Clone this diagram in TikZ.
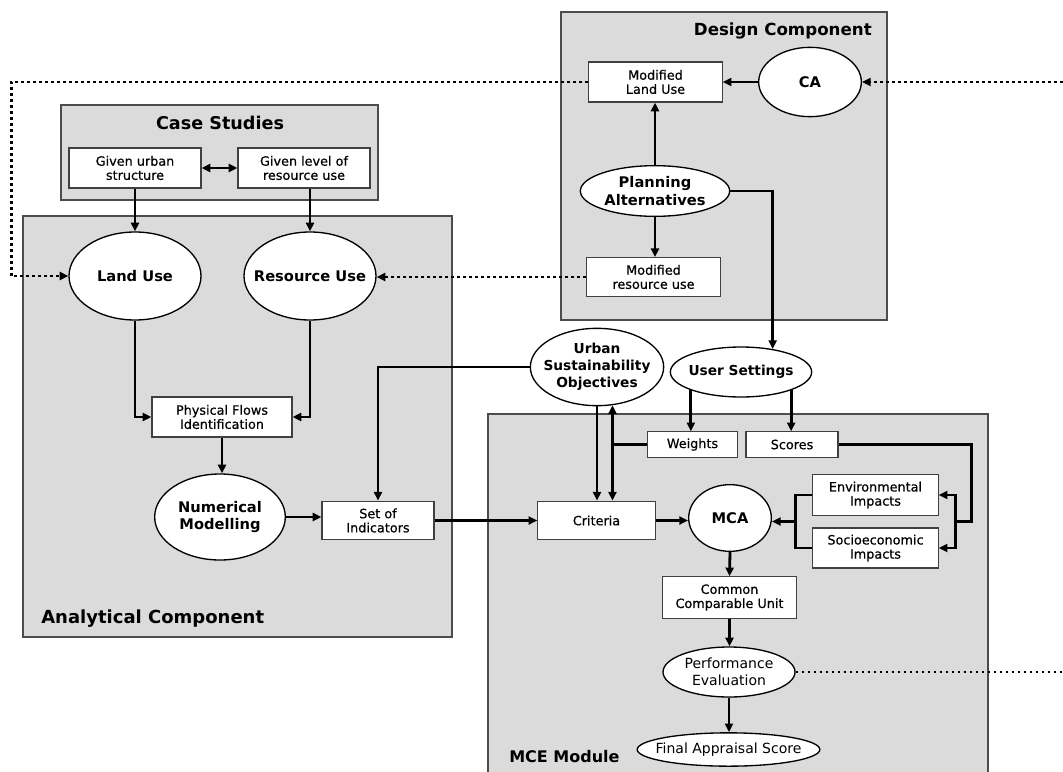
\documentclass[tikz,border=0pt]{standalone}
\usepackage{fontspec}
\setmainfont{DejaVu Sans}
\newfontfamily\boxfont[FakeBold=0.5]{DejaVu Sans}
\usetikzlibrary{arrows.meta,calc,shapes.geometric}

\begin{document}
\begin{tikzpicture}[
          x=0.75pt, y=-0.75pt,
          >={Triangle[length=6.5pt, width=6pt]},
          panel/.style={draw=black!70, line width=1.2pt, fill=black!14},
          paneltitle/.style={font=\fontsize{#1}{16}\selectfont\bfseries, inner sep=0pt},
          box/.style={draw=black!75, line width=0.9pt, fill=white, inner sep=1pt, align=center, font=\boxfont\fontsize{9.6}{10.6}\selectfont},
          oval/.style={ellipse, draw, line width=1pt, fill=white, inner sep=0pt},
          otext/.style={align=center, font=\fontsize{11}{12.8}\selectfont\bfseries},
          link/.style={line width=2.1pt},
          arr/.style={->, line width=2.1pt},
          dots/.style={line width=2.1pt, dash pattern=on 2.1pt off 2.4pt}
      ]
        \useasboundingbox (0,0) rectangle (1063,771);
        \draw[panel] (561,12) rectangle (887,320);
        \draw[panel] (61,105) rectangle (378,200);
        \draw[panel] (23,216) rectangle (452,637);
        \draw[panel] (488,414) rectangle (988,776);
        \node[paneltitle=12.5, anchor=east] (tdesign) at (872,31) {Design Component};
        \node[paneltitle=13.2] (tcase) at (220,123) {Case Studies};
        \node[paneltitle=13.5, anchor=west] (tanalytic) at (41,619) {Analytical Component};
        \node[paneltitle=12, anchor=west] (tmce) at (509,757) {MCE Module};

        \node[box, minimum width=99pt, minimum height=30pt] (gus) at (135,168) {Given urban\\structure};
        \node[box, minimum width=99pt, minimum height=30pt] (glr) at (304,168) {Given level of\\resource use};
        \node[box, minimum width=100pt, minimum height=30pt] (mlu) at (655.5,82) {Modified\\Land Use};
        \node[box, minimum width=100pt, minimum height=29pt] (mru) at (653.5,277) {Modified\\resource use};
        \node[box, minimum width=105pt, minimum height=30pt] (pfi) at (222,417) {Physical Flows\\Identification};
        \node[box, minimum width=84pt, minimum height=29pt] (soi) at (378,520.5) {Set of\\Indicators};
        \node[box, minimum width=68pt, minimum height=19pt] (wts) at (692.5,444.5) {Weights};
        \node[box, minimum width=69pt, minimum height=19pt] (scr) at (792,444.5) {Scores};
        \node[box, minimum width=88pt, minimum height=29pt] (crt) at (596.5,520.5) {Criteria};
        \node[box, minimum width=94pt, minimum height=31pt] (env) at (875.5,495) {Environmental\\Impacts};
        \node[box, minimum width=94pt, minimum height=30pt] (sei) at (875.5,548) {Socioeconomic\\Impacts};
        \node[box, minimum width=100pt, minimum height=31pt] (ccu) at (729.5,597.5) {Common\\Comparable Unit};

        \node[oval, minimum width=99pt, minimum height=66pt, label={[otext]center:Land Use}] (lu) at (135,276) {};
        \node[oval, minimum width=99pt, minimum height=66pt, label={[otext]center:Resource Use}] (ru) at (310,276) {};
        \node[oval, minimum width=77pt, minimum height=52pt, label={[otext]center:CA}] (ca) at (810,82) {};
        \node[oval, minimum width=112pt, minimum height=38pt, label={[otext]center:{Planning\\Alternatives}}] (pa) at (655,191) {};
        \node[oval, minimum width=106pt, minimum height=37.5pt, label={[otext, font=\fontsize{10.3}{12.8}\selectfont\bfseries]center:User Settings}] (us) at (741,372) {};
        \node[oval, minimum width=100pt, minimum height=58pt, label={[otext, font=\fontsize{10.3}{12.8}\selectfont\bfseries]center:{Urban\\Sustainability\\Objectives}}] (uso) at (597,367) {};
        \node[oval, minimum width=62pt, minimum height=50pt, label={[otext]center:MCA}] (mca) at (730,518) {};
        \node[oval, minimum width=98pt, minimum height=64.5pt, label={[otext]center:{Numerical\\Modelling}}] (nm) at (220,517) {};
        \node[oval, minimum width=99pt, minimum height=37.5pt, label={[otext, font=\fontsize{10.5}{12.5}\selectfont]center:{Performance\\Evaluation}}] (pe) at (729,672) {};
        \node[oval, minimum width=137pt, minimum height=25pt, label={[otext, font=\fontsize{10.5}{12.5}\selectfont]center:Final Appraisal Score}] (fas) at (728.5,749.5) {};

        \coordinate (wj) at (wts.west -| uso.292);
        \coordinate (lb) at ($(env.west)!0.5!(sei.west)+(-17,0)$);
        \coordinate (rb) at ($(env.east)!0.5!(sei.east)+(17,0)$);
        \coordinate (edgetop) at (1063,82);
        \coordinate (edgebot) at (1063,672);

        \draw[link, <->] (gus.east) -- (glr.west);
        \draw[arr] (gus.south) -- (lu.north);
        \draw[arr] (glr.south -| ru.north) -- (ru.north);
        \draw[arr] (lu.south) |- (pfi.west);
        \draw[arr] (ru.south) |- (pfi.east);
        \draw[arr] (pfi.south) -- (pfi.south |- nm.north);
        \draw[arr] (nm.east) -- (nm.east -| soi.west);
        \draw[arr] (uso.west) -| (soi.north);
        \draw[arr] (soi.east) -- (crt.west);
        \draw[arr] (ca.west) -- (ca.west -| mlu.east);
        \draw[arr] (pa.north) -- (pa.north |- mlu.south);
        \draw[arr] (pa.south) -- (pa.south |- mru.north);
        \draw[arr] (pa.east) -| (us.36);
        \draw[arr] (us.200) -- (us.200 |- wts.north);
        \draw[arr] (us.340) -- (us.340 |- scr.north);
        \draw[arr] (uso.south) -- (uso.south |- crt.north);
        \draw[arr] (wts.west) -| (uso.292);
        \draw[arr] (wj) -- (wj |- crt.north);
        \draw[arr] (crt.east) -- (crt.east -| mca.west);
        \draw[link] (env.west) -| (lb) |- (sei.west);
        \draw[arr] (lb) -- (lb -| mca.east);
        \draw[link] (scr.east) -| ($(rb)+(16,0)$) -- (rb);
        \draw[arr] (rb) |- (env.east);
        \draw[arr] (rb) |- (sei.east);
        \draw[arr] (mca.south) -- (ccu.north);
        \draw[arr] (ccu.south) -- (ccu.south |- pe.north);
        \draw[arr] (pe.south) -- (pe.south |- fas.north);
        \draw[dots, ->] (mlu.west) -| ($(lu.west)+(-57,0)$) -- (lu.west);
        \draw[dots, ->] (mru.west) -- (mru.west -| ru.east);
        \draw[dots, ->] (edgetop) -- (ca.east);
        \draw[dots] (pe.east) -- (edgebot);
      \end{tikzpicture}
\end{document}
